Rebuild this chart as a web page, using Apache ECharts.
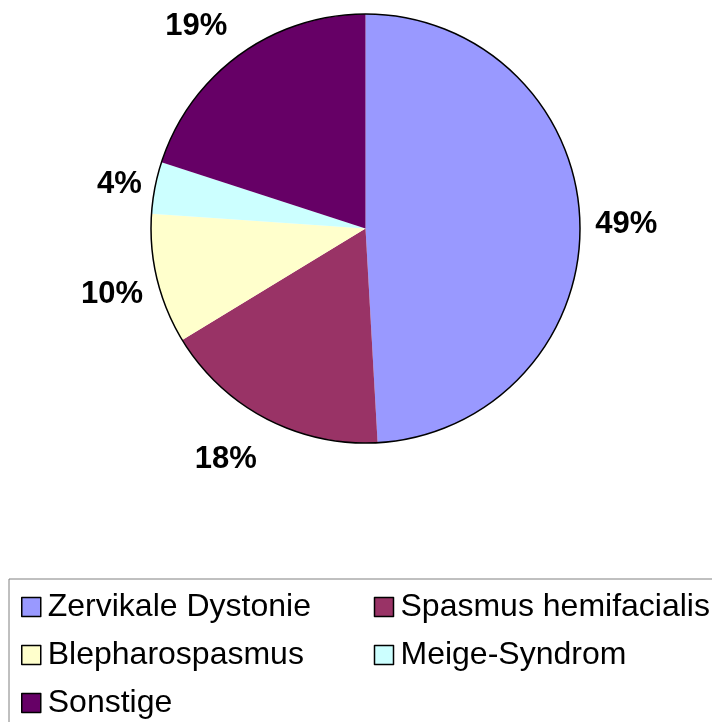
<!DOCTYPE html>
<html>
<head>
<meta charset="utf-8">
<script src="https://cdn.jsdelivr.net/npm/echarts@6/dist/echarts.min.js"></script>
<style>
  html, body { margin: 0; padding: 0; background: #fff; }
  #chart { width: 712px; height: 722px; }
</style>
</head>
<body>
<div id="chart"></div>
<script>
// clockwise from 12 o'clock; slice sizes as measured on the picture
const categories = ['Zervikale Dystonie', 'Spasmus hemifacialis', 'Blepharospasmus', 'Meige-Syndrom', 'Sonstige']
const shares = [49.1, 17.2, 9.8, 3.9, 20.0]
// the percent texts printed on the chart
const shareLabels = ['49%', '18%', '10%', '4%', '19%']
const sliceColors = ['#9999ff', '#993366', '#ffffcc', '#ccffff', '#660066']
// Excel does not put its labels exactly on the mid ray, small nudges per label
const labelNudge = [[-3, 3], [-17, -3], [3, 4], [13, 6], [-14, 12]]

const FONT = '"Liberation Sans", Arial, sans-serif'
const center = [365.5, 228.5]
const R = 214.5

const chart = echarts.init(document.getElementById('chart'), null, { renderer: 'canvas' })

const pieData = categories.map((name, i) => ({ name, value: shares[i], itemStyle: { color: sliceColors[i] } }))

chart.setOption({
  backgroundColor: '#fff',
  animation: false,
  legend: {
    data: categories,
    left: 9, top: 579,
    width: 700,
    padding: [9, 0, 40, 12],
    itemGap: 10,
    itemWidth: 19, itemHeight: 19,
    icon: 'rect',
    itemStyle: { borderColor: '#000', borderWidth: 1.5 },
    borderColor: '#808080', borderWidth: 1,
    selectedMode: false,
    textStyle: { fontFamily: FONT, fontSize: 32, color: '#000', width: 316, lineHeight: 38, padding: [0, 0, 0, 2] },
  },
  series: [
    {
      // slices, no edges between them
      name: 'main', type: 'pie', center, radius: R,
      startAngle: 90, clockwise: true,
      silent: true, label: { show: false }, labelLine: { show: false },
      itemStyle: { borderWidth: 0 },
      data: pieData,
    },
    {
      // thin outline round the pie
      name: 'outline', type: 'pie', center, radius: R,
      silent: true, label: { show: false }, labelLine: { show: false },
      itemStyle: { color: 'rgba(0,0,0,0)', borderColor: '#000', borderWidth: 1.5 },
      data: [{ name: '_', value: 1 }],
    },
    {
      // invisible ring that carries the percent labels at its middle radius
      name: 'labels', type: 'pie', center, radius: [250, 272],
      startAngle: 90, clockwise: true,
      silent: true,
      itemStyle: { color: 'rgba(0,0,0,0)' },
      label: {
        show: true, position: 'inside',
        formatter: p => shareLabels[p.dataIndex],
        fontFamily: FONT, fontWeight: 'bold', fontSize: 31, color: '#000',
      },
      labelLine: { show: false },
      labelLayout: p => ({ dx: labelNudge[p.dataIndex][0], dy: labelNudge[p.dataIndex][1] }),
      data: categories.map((name, i) => ({ name, value: shares[i] })),
    },
  ],
})
</script>
</body>
</html>
